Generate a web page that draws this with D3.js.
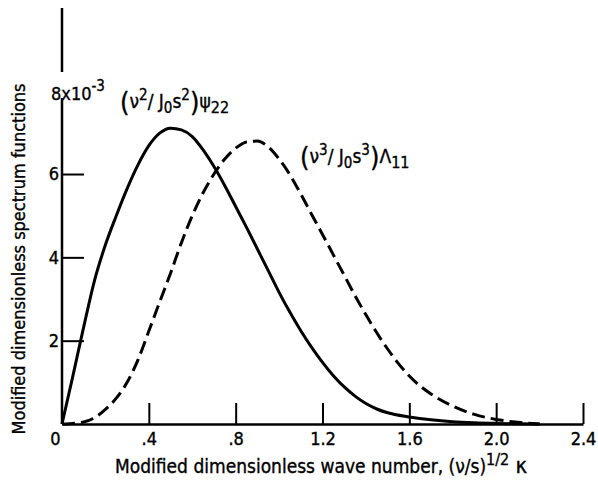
<!DOCTYPE html>
<html>
<head>
<meta charset="utf-8">
<script src="https://cdn.jsdelivr.net/npm/d3@7/dist/d3.min.js"></script>
<style>
  body { margin: 0; background: #fff; }
  svg text { font-family: "DejaVu Sans Condensed", "Liberation Sans Narrow", sans-serif; fill: #000; stroke: #000; stroke-width: 0.35px; }
</style>
</head>
<body>
<div id="chart"></div>
<script>
// wave number (v/s)^1/2 k
var psiX = [0, 0.05, 0.1, 0.15, 0.2, 0.25, 0.3, 0.35, 0.4, 0.45, 0.5, 0.55, 0.6, 0.65, 0.7, 0.75, 0.8, 0.85, 0.9, 0.95, 1.0, 1.05, 1.1, 1.15, 1.2, 1.25, 1.3, 1.35, 1.4, 1.45, 1.5, 1.6, 1.7, 1.8, 1.9, 2.0, 2.1, 2.2]
// (v^2/J0 s^2) psi22, x10^-3
var psiY = [0, 1.15, 2.33, 3.45, 4.3, 5.0, 5.65, 6.22, 6.68, 6.98, 7.1, 7.06, 6.9, 6.58, 6.18, 5.72, 5.22, 4.72, 4.2, 3.68, 3.16, 2.68, 2.24, 1.84, 1.48, 1.16, 0.89, 0.67, 0.49, 0.36, 0.27, 0.17, 0.1, 0.055, 0.03, 0.015, 0.005, 0]

var lamX = [0, 0.1, 0.15, 0.2, 0.25, 0.3, 0.35, 0.4, 0.45, 0.5, 0.55, 0.6, 0.65, 0.7, 0.75, 0.8, 0.85, 0.9, 0.95, 1.0, 1.05, 1.1, 1.15, 1.2, 1.25, 1.3, 1.35, 1.4, 1.45, 1.5, 1.55, 1.6, 1.7, 1.8, 1.9, 2.0, 2.1, 2.2]
// (v^3/J0 s^3) Lambda11, x10^-3
var lamY = [0, 0.05, 0.15, 0.35, 0.62, 1.0, 1.54, 2.23, 2.93, 3.62, 4.35, 5.0, 5.55, 6.0, 6.36, 6.62, 6.77, 6.79, 6.65, 6.36, 5.98, 5.52, 5.03, 4.55, 4.06, 3.57, 3.08, 2.62, 2.19, 1.8, 1.45, 1.15, 0.72, 0.43, 0.23, 0.11, 0.04, 0]

var xTicks = [0, 0.4, 0.8, 1.2, 1.6, 2.0, 2.4]
var xTickLabels = ['0', '.4', '.8', '1.2', '1.6', '2.0', '2.4']
var yTicks = [2, 4, 6]

var width = 598, height = 482

var svg = d3.select('#chart').append('svg')
            .attr('width', width)
            .attr('height', height)

var x = d3.scaleLinear().domain([0, 2.4]).range([62, 583])
var y = d3.scaleLinear().domain([0, 8]).range([424, 90.7])

// x axis
var xAxis = d3.axisBottom(x)
              .tickValues(xTicks)
              .tickSize(-21)
              .tickSizeOuter(0)
              .tickPadding(8)
              .tickFormat(function(d, i) { return xTickLabels[i] })

var gx = svg.append('g')
            .attr('transform', 'translate(0,' + y(0) + ')')
            .call(xAxis)
gx.select('.domain').attr('stroke', '#000').attr('stroke-width', 2.5)
gx.selectAll('.tick line').attr('stroke', '#000').attr('stroke-width', 2)
gx.selectAll('.tick text').attr('font-size', 18).attr('fill', '#000')
gx.selectAll('.tick').filter(function(d) { return d === 0 }).select('line').remove()
gx.selectAll('.tick').filter(function(d) { return d === 0 }).select('text').attr('x', -7)

// y axis
var yAxis = d3.axisLeft(y)
              .tickValues(yTicks)
              .tickSize(-22)
              .tickPadding(3)
              .tickFormat(d3.format('d'))

var gy = svg.append('g')
            .attr('transform', 'translate(' + x(0) + ',0)')
            .call(yAxis)
gy.select('.domain').remove()
gy.selectAll('.tick line').attr('stroke', '#000').attr('stroke-width', 2)
gy.selectAll('.tick text').attr('font-size', 18).attr('fill', '#000')

// vertical axis line, broken where the 8x10^-3 label sits
svg.append('line')
   .attr('x1', x(0)).attr('x2', x(0))
   .attr('y1', 8).attr('y2', 72)
   .attr('stroke', '#000').attr('stroke-width', 2.5)
svg.append('line')
   .attr('x1', x(0)).attr('x2', x(0))
   .attr('y1', 98).attr('y2', y(0))
   .attr('stroke', '#000').attr('stroke-width', 2.5)

var top8 = svg.append('text')
              .attr('x', 51).attr('y', y(8) + 9)
              .attr('font-size', 18)
top8.append('tspan').text('8x10')
top8.append('tspan').attr('dy', -9).attr('font-size', 15).text('-3')

// curves
var line = d3.line()
             .x(function(d) { return x(d[0]) })
             .y(function(d) { return y(d[1]) })
             .curve(d3.curveMonotoneX)

svg.append('path')
   .datum(d3.zip(psiX, psiY))
   .attr('d', line)
   .attr('fill', 'none')
   .attr('stroke', '#000')
   .attr('stroke-width', 3)

svg.append('path')
   .datum(d3.zip(lamX, lamY))
   .attr('d', line)
   .attr('fill', 'none')
   .attr('stroke', '#000')
   .attr('stroke-width', 3)
   .attr('stroke-dasharray', '13,6')

// curve labels
function curveLabel(px, py, pow, sym, sub) {
  var t = svg.append('text').attr('x', px).attr('y', py).attr('font-size', 19)
  t.append('tspan').attr('font-size', 27).attr('dy', 3).text('(')
  t.append('tspan').attr('dy', -3).text('\u03BD')
  t.append('tspan').attr('dy', -8).attr('font-size', 15).text(pow)
  t.append('tspan').attr('dy', 8).text('/ J')
  t.append('tspan').attr('dy', 5).attr('font-size', 15).text('0')
  t.append('tspan').attr('dy', -5).text('s')
  t.append('tspan').attr('dy', -8).attr('font-size', 15).text(pow)
  t.append('tspan').attr('dy', 11).attr('font-size', 27).text(')')
  t.append('tspan').attr('dy', -3).text(sym)
  t.append('tspan').attr('dy', 5).attr('font-size', 16).text(sub)
}
curveLabel(120, 108, '2', '\u03C8', '22')
curveLabel(300, 163, '3', '\u039B', '11')

// axis titles
var xt = svg.append('text')
            .attr('x', 115).attr('y', 473)
            .attr('font-size', 19)
xt.append('tspan').text('Modified dimensionless wave number,  (\u03BD/s)')
xt.append('tspan').attr('dy', -8).attr('font-size', 16).text('1/2')
xt.append('tspan').attr('dy', 8).attr('font-size', 22).text(' \u03BA')

svg.append('text')
   .attr('transform', 'translate(25,259) rotate(-90)')
   .attr('text-anchor', 'middle')
   .attr('font-size', 18)
   .text('Modified dimensionless spectrum functions')
</script>
</body>
</html>
